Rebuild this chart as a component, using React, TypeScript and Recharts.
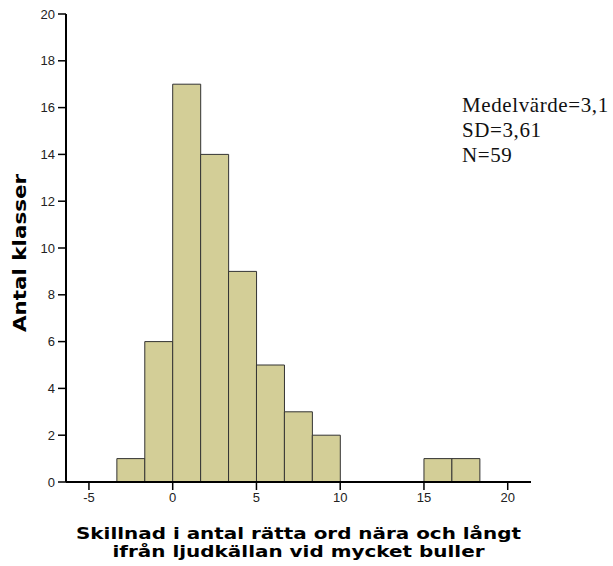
import { BarChart, Bar, XAxis, YAxis, Label } from "recharts";

// histogram bins (width 5/3), midpoints and counts
const binMids = [-2.5, -0.833, 0.833, 2.5, 4.167, 5.833, 7.5, 9.167, 10.833, 12.5, 14.167, 15.833, 17.5];
const counts = [1, 6, 17, 14, 9, 5, 3, 2, 0, 0, 0, 1, 1];
const xTicks = [-5, 0, 5, 10, 15, 20];
const yTicks = [0, 2, 4, 6, 8, 10, 12, 14, 16, 18, 20];
const statLines = ["Medelvärde=3,1", "SD=3,61", "N=59"];

const xTitle = ["Skillnad i antal rätta ord nära och långt", "ifrån ljudkällan vid mycket buller"];
const yTitle = "Antal klasser";

const data = binMids.map((mid, i) => ({ mid, count: counts[i] }));

const tickStyle = { fill: "#222", fontSize: 13, fontFamily: "Liberation Sans, Arial, sans-serif" };
const titleFont = { fontFamily: "DejaVu Sans, sans-serif", fontWeight: "bold" as const, fill: "#000" };

export default function App() {
  return (
    <div style={{ position: "absolute", left: 0, top: 0, width: 613, height: 566, background: "#fff", overflow: "hidden" }}>
      <BarChart
        width={613}
        height={566}
        data={data}
        margin={{ top: 14, right: 82, left: 0, bottom: 0 }}
        barCategoryGap={0}
        barGap={0}
      >
        <XAxis
          dataKey="mid"
          type="number"
          domain={[-6.37, 21.39]}
          allowDataOverflow
          ticks={xTicks}
          height={84}
          tickSize={8}
          tickMargin={3}
          tick={tickStyle}
          axisLine={{ stroke: "#000", strokeWidth: 2 }}
          tickLine={{ stroke: "#000", strokeWidth: 1.5 }}
        >
          <Label
            content={({ viewBox }: any) => {
              const cx = viewBox.x + viewBox.width / 2;
              return (
                <g>
                  <text
                    x={cx}
                    y={viewBox.y + 57}
                    textAnchor="middle"
                    fontSize={15.5}
                    textLength={445}
                    lengthAdjust="spacingAndGlyphs"
                    style={titleFont}
                  >
                    {xTitle[0]}
                  </text>
                  <text
                    x={cx}
                    y={viewBox.y + 75}
                    textAnchor="middle"
                    fontSize={15.5}
                    textLength={372}
                    lengthAdjust="spacingAndGlyphs"
                    style={titleFont}
                  >
                    {xTitle[1]}
                  </text>
                </g>
              );
            }}
          />
        </XAxis>
        <YAxis
          type="number"
          domain={[0, 20]}
          ticks={yTicks}
          width={66}
          tickSize={8}
          tickMargin={3}
          tick={tickStyle}
          axisLine={{ stroke: "#000", strokeWidth: 2 }}
          tickLine={{ stroke: "#000", strokeWidth: 1.5 }}
        >
          <Label
            content={({ viewBox }: any) => {
              const cx = 26;
              const cy = viewBox.y + viewBox.height / 2 + 5;
              return (
                <text
                  x={cx}
                  y={cy}
                  textAnchor="middle"
                  fontSize={17}
                  textLength={158}
                  lengthAdjust="spacingAndGlyphs"
                  transform={`rotate(-90 ${cx} ${cy})`}
                  style={titleFont}
                >
                  {yTitle}
                </text>
              );
            }}
          />
        </YAxis>
        <Bar dataKey="count" fill="#d3ce97" stroke="#333" strokeWidth={1} isAnimationActive={false} />
      </BarChart>
      <div
        style={{
          position: "absolute",
          left: 462,
          top: 92.5,
          fontFamily: "Liberation Serif, serif",
          fontSize: 21,
          lineHeight: "25px",
          letterSpacing: "0.6px",
          color: "#111",
          whiteSpace: "nowrap",
        }}
      >
        {statLines.map((s) => (
          <div key={s}>{s}</div>
        ))}
      </div>
    </div>
  );
}
